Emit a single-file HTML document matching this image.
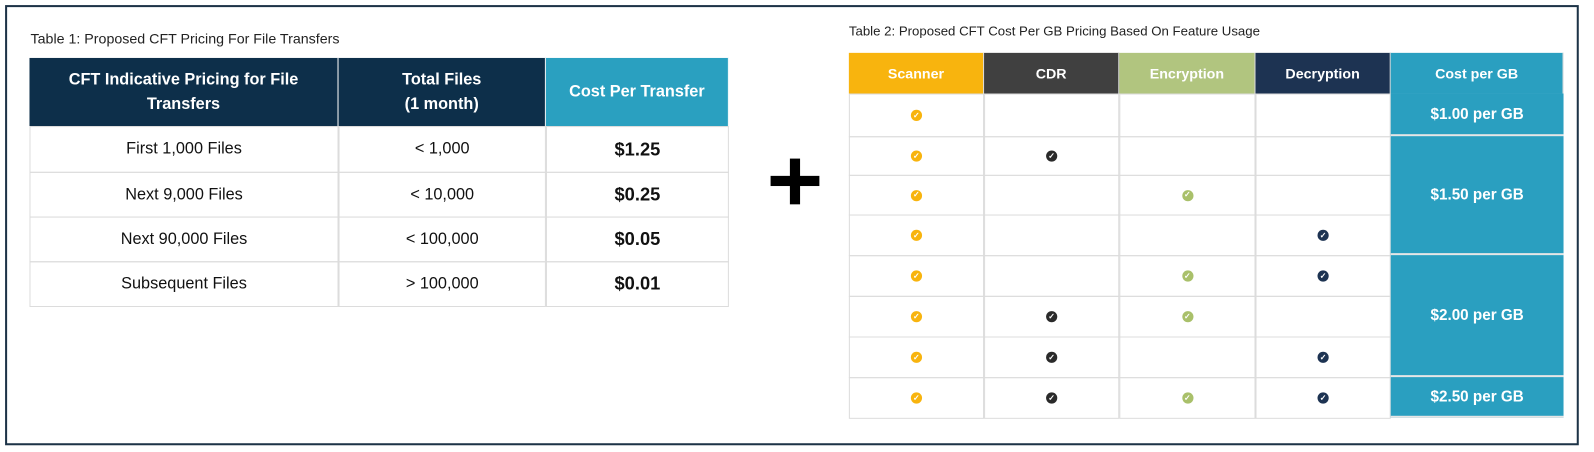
<!DOCTYPE html>
<html><head><meta charset="utf-8"><style>
body{margin:0;width:1594px;height:452px;background:#fff;position:relative;overflow:hidden;font-family:"Liberation Sans",sans-serif}
#wrap{position:absolute;left:0;top:0;width:1568px;height:445px;transform:scale(1.0166);transform-origin:0 0}
.abs{position:absolute;box-sizing:border-box}
.cell{position:absolute;box-sizing:border-box;display:flex;align-items:center;justify-content:center;text-align:center}
.ck{width:11px;height:11px;border-radius:50%;display:flex;align-items:center;justify-content:center;color:#fff;font-size:8px;font-weight:bold;line-height:1}
</style></head><body>
<div id="wrap">
<div class="abs" style="left:5px;top:5px;width:1548px;height:433px;border:2px solid #1d3347"></div>
<div class="abs" style="left:30px;top:30px;font-size:14px;color:#222">Table 1: Proposed CFT Pricing For File Transfers</div>
<div class="abs" style="left:835px;top:23px;font-size:13px;color:#222">Table 2: Proposed CFT Cost Per GB Pricing Based On Feature Usage</div>
<div id="t1"></div>
<div id="t2"></div>
<div class="abs" style="left:777px;top:156px;width:10px;height:45px;background:#000"></div>
<div class="abs" style="left:758px;top:173px;width:48px;height:10px;background:#000"></div>
</div>
<script>
const t1Head=["CFT Indicative Pricing for File<br>Transfers","Total Files<br>(1 month)","Cost Per Transfer"];
const t1Tiers=["First 1,000 Files","Next 9,000 Files","Next 90,000 Files","Subsequent Files"];
const t1Totals=["< 1,000","< 10,000","< 100,000","> 100,000"];
const t1Costs=["$1.25","$0.25","$0.05","$0.01"];
const t2Head=["Scanner","CDR","Encryption","Decryption","Cost per GB"];
const t2Rows=[[1,0,0,0],[1,1,0,0],[1,0,1,0],[1,0,0,1],[1,0,1,1],[1,1,1,0],[1,1,0,1],[1,1,1,1]];
const t2Groups=[["$1.00 per GB",0,1],["$1.50 per GB",1,4],["$2.00 per GB",4,7],["$2.50 per GB",7,8]];
function cell(parent,x,y,w,h,html,style,name){
 const d=document.createElement('div');d.className='cell';
 d.style.cssText=`left:${x}px;top:${y}px;width:${w}px;height:${h}px;`+style;
 d.innerHTML=html;
 
 
 parent.appendChild(d);return d;}
const t1=document.getElementById('t1');
const c1=[29,333,537,717];
const hb=["#0d2f4a","#0d2f4a","#2aa0c0"];
for(let i=0;i<3;i++)cell(t1,c1[i],57,c1[i+1]-c1[i],67,t1Head[i],`background:${hb[i]};color:#fff;font-weight:bold;font-size:16px;line-height:24px;border-right:1px solid #fff`,'table1-header-cell');
const r1=[124,169,213,257,301];
for(let r=0;r<4;r++){
 const vals=[t1Tiers[r],t1Totals[r],t1Costs[r]];
 for(let i=0;i<3;i++)cell(t1,c1[i],r1[r],c1[i+1]-c1[i],r1[r+1]-r1[r]+1,vals[i],`border:1px solid #dcdcdc;color:#111;font-size:${i==2?18:16}px;${i==2?'font-weight:bold;':''}`,'table1-cell');
}
const t2=document.getElementById('t2');
const c2=[835,968,1101,1235,1368,1538];
const hc=["#f8b40e","#404040","#b1c57f","#1d3352","#2a9fc0"];
const ckc=["#f8b40e","#2a2a2a","#a9c06a","#1d3352"];
for(let i=0;i<5;i++)cell(t2,c2[i],52,c2[i+1]-c2[i],40,t2Head[i],`background:${hc[i]};color:#fff;font-weight:bold;font-size:14px;border-right:1px solid #ddd`,'table2-header-cell');
const r2=[92,134,172,211,251,291,331,371,411];
for(let r=0;r<t2Rows.length;r++){
 for(let i=0;i<4;i++){
  cell(t2,c2[i],r2[r],c2[i+1]-c2[i],r2[r+1]-r2[r]+1,t2Rows[r][i]?`<div class="ck" style="background:${ckc[i]}">✓</div>`:'','border:1px solid #dcdcdc','table2-cell');
 }
}
for(const g of t2Groups){
 cell(t2,c2[4],r2[g[1]],c2[5]-c2[4],r2[g[2]]-r2[g[1]],g[0],'background:#2a9fc0;color:#fff;font-weight:bold;font-size:15px;border-bottom:2px solid #e6e6e6','cost-per-gb-cell');
}
</script>
</body></html>
